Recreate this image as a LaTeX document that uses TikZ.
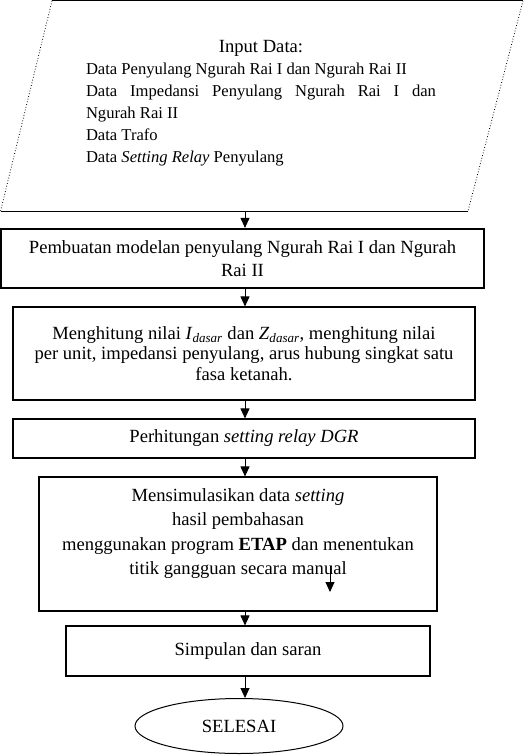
\documentclass[tikz,border=0pt]{standalone}
\usepackage{fontspec}
\setmainfont{Liberation Serif}
\usepackage{amsmath}
\usepackage{tikz}
\usetikzlibrary{arrows.meta}
\usetikzlibrary{shapes.geometric}
\setlength{\parindent}{0pt}

\tikzset{
  box/.style={draw=black, line width=1.1pt, rectangle, inner sep=0pt, align=center},
  flow/.style={-{Triangle[width=9pt,length=10pt]}, line width=0.9pt},
  big/.style={font=\fontsize{18.6}{23}\selectfont},
}

\begin{document}
\begin{tikzpicture}[x=1pt,y=-1pt]
    \useasboundingbox (0,0) rectangle (524,755);
    % input parallelogram
    \coordinate (P1) at (52,0.8);
    \coordinate (P2) at (523,0.8);
    \coordinate (P3) at (468,211);
    \coordinate (P4) at (0.6,211);
    \draw[line width=1pt] (P1) -- (P2);
    \draw[line width=1pt] (P4) -- (P3);
    \draw[line width=0.8pt, dotted] (P1) -- (P4);
    \draw[line width=0.8pt, dotted] (P2) -- (P3);
    \node[text width=350pt, align=justify, inner sep=0pt, font=\fontsize{16.6}{22}\selectfont] (inp) at (261,103) {%
      \makebox[\linewidth]{\fontsize{18.6}{22}\selectfont Input Data:}\\
      Data Penyulang Ngurah Rai I dan Ngurah Rai II\\
      Data Impedansi Penyulang Ngurah Rai I dan\linebreak Ngurah Rai II\\
      Data Trafo\\
      Data \textit{Setting Relay} Penyulang};
    \node[box, big, line width=2.2pt, minimum width=483pt, minimum height=59pt] (mdl) at (242.5,258.5)
      {Pembuatan modelan penyulang Ngurah Rai I dan Ngurah\\Rai II};
    \node[box, font=\fontsize{18.6}{20.5}\selectfont, minimum width=462pt, minimum height=93pt] (hit) at (244,353.5)
      {Menghitung nilai \textit{I}\textsubscript{\textit{dasar}} dan \textit{Z}\textsubscript{\textit{dasar}}, menghitung nilai\\per unit, impedansi penyulang, arus hubung singkat satu\\fasa ketanah.};
    \node[box, big, minimum width=462pt, minimum height=39pt] (dgr) at (244,438.5)
      {Perhitungan \textit{setting relay DGR}};
    \node[box, font=\fontsize{18.6}{24.5}\selectfont, minimum width=398pt, minimum height=134pt] (sim) at (238,544)
      {Mensimulasikan data \textit{setting}\\hasil pembahasan\\menggunakan program \textbf{ETAP} dan menentukan\\titik gangguan secara manual\\\mbox{}};
    \node[box, big, minimum width=364pt, minimum height=50pt] (smp) at (248,651)
      {Simpulan dan saran};
    \node[draw=black, line width=1pt, ellipse, big, inner sep=0pt, minimum width=208pt, minimum height=55pt] (end) at (239,726)
      {SELESAI};
    \coordinate (ax) at (245,0);
    \coordinate (s1) at (330,566);
    \coordinate (s2) at (330,592);
    \path [flow] (ax |- P4) edge (ax |- mdl.north);
    \path [flow] (ax |- mdl.south) edge (ax |- hit.north);
    \path [flow] (ax |- hit.south) edge (ax |- dgr.north);
    \path [flow] (ax |- dgr.south) edge (ax |- sim.north);
    \path [flow] (ax |- sim.south) edge (ax |- smp.north);
    \path [flow] (ax |- smp.south) edge (ax |- end.north);
    \path [flow] (s1) edge (s2);
\end{tikzpicture}
\end{document}
